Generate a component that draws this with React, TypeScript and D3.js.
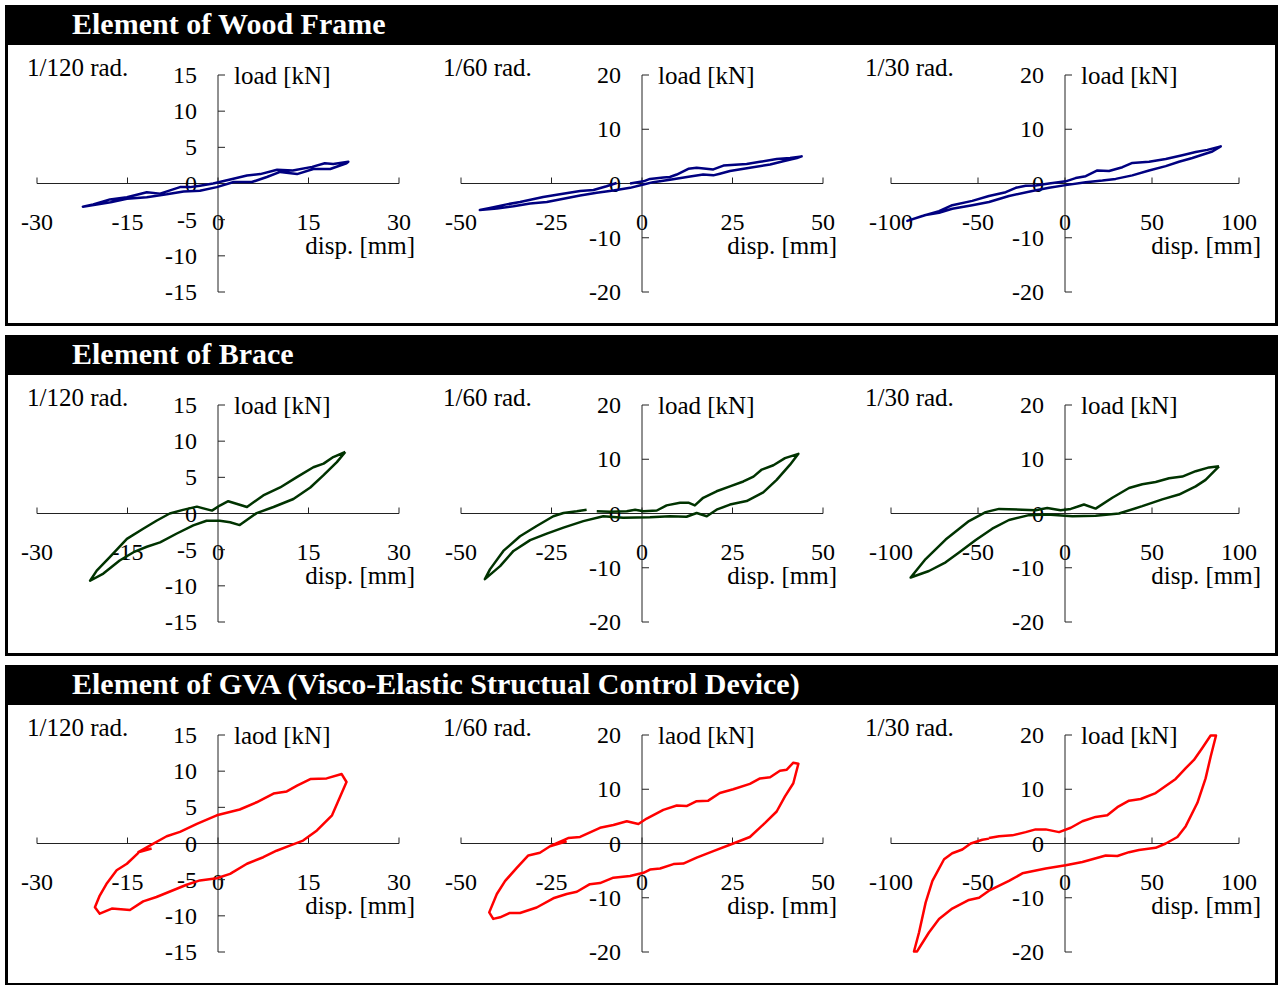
import * as d3 from 'd3';

// hysteresis loops, [disp mm, load kN]
const woodFrame120: [number, number][] = [
  [-0.8, 0], [2.2, 0.6], [4.8, 1.1], [7, 1.3], [9.8, 1.9], [12.4, 1.8], [15.6, 2.3], [17.7, 2.8], [19.1, 2.7], [21.6, 3.0],
  [21.3, 2.8], [18.6, 2.0], [15.8, 2.0], [13.1, 1.3], [10.3, 1.6], [8.1, 0.9], [5.6, 0.2], [2.6, 0.2], [-0.2, -0.5], [-3.0, -1.0],
  [-5.7, -1.1], [-8.5, -1.5], [-11.8, -1.9], [-15.1, -2.1], [-17.8, -2.6], [-20.1, -2.9], [-22.4, -3.2],
  [-20.7, -2.9], [-17.9, -2.2], [-15.1, -1.9], [-11.8, -1.2], [-9.6, -1.4], [-6.3, -0.5], [-4.6, -0.5], [-3, -0.3], [-0.8, 0],
];
const woodFrame60: [number, number][] = [
  [-3.3, 0], [0.4, 0.4], [2.2, 0.85], [5.9, 1.1], [7.7, 1.2], [9.6, 1.65], [12.8, 2.7], [15.1, 2.9], [19.7, 2.6], [22.5, 3.3],
  [28.9, 3.6], [32.6, 4.0], [37.2, 4.5], [40.9, 4.7], [44.1, 5.0],
  [42.8, 4.7], [39, 4.1], [35.4, 3.5], [29.8, 2.9], [24.3, 2.3], [21.5, 1.8], [19.7, 1.5], [16.9, 1.65], [13.3, 1.3], [7.7, 0.7],
  [3.1, 0.25], [0.4, -0.2], [-3.3, -0.8], [-7.9, -1.3], [-12.5, -1.7], [-17.1, -2.2], [-21.7, -2.8], [-26.3, -3.4], [-30.9, -3.7],
  [-35.5, -4.2], [-40.1, -4.6], [-44.8, -4.9],
  [-42, -4.5], [-37.4, -3.85], [-33.7, -3.4], [-27.3, -2.5], [-22.7, -2.0], [-17.1, -1.4], [-13.4, -1.2], [-9.8, -0.5], [-7.0, 0.1],
];
const woodFrame30: [number, number][] = [
  [-9.2, 0], [0.4, 0.4], [6.1, 1.0], [11.9, 1.35], [18.6, 2.4], [25.3, 2.3], [33, 3.0], [38.7, 3.8], [48.3, 4.0], [57.9, 4.5],
  [67.4, 5.2], [75.1, 5.8], [81.8, 6.2], [89.5, 6.85],
  [84.7, 5.9], [78.9, 5.3], [73.2, 4.7], [65.5, 4.0], [57.9, 3.2], [48.3, 2.4], [38.7, 1.5], [29.1, 0.85], [21.5, 0.55], [11.9, 0.25],
  [0.4, -0.3], [-9.2, -0.8], [-18.8, -1.4], [-32.2, -2.3], [-43.7, -3.4], [-53.3, -4.0], [-64.8, -4.65], [-72.4, -5.4], [-80.1, -5.8],
  [-90.6, -6.9],
  [-82, -6.0], [-72.4, -5.1], [-64.8, -4.0], [-53.3, -3.2], [-43.7, -2.3], [-34.1, -1.6], [-28.3, -0.8], [-22.6, -0.4], [-16.8, -0.35], [-9.2, 0],
];

const brace120: [number, number][] = [
  [21.1, 8.5], [19.7, 7.1], [17.5, 5.3], [15.3, 3.6], [12.5, 2.0], [9.2, 0.9], [6.4, 0.05], [3.6, -1.6], [2.0, -1.2], [0.3, -1.0],
  [-1.9, -1.0], [-4.1, -1.65], [-6.9, -2.8], [-9.6, -4.0], [-11.8, -4.6], [-14.0, -5.35], [-16.3, -6.5], [-19.0, -8.3], [-21.2, -9.3],
  [-20.1, -7.9], [-17.9, -6.0], [-15.1, -3.5], [-12.4, -2.1], [-10.2, -1.0], [-8.0, 0], [-5.8, 0.5], [-3.5, 0.95], [-1.0, 0.4],
  [0.3, 1.1], [1.7, 1.7], [4.8, 0.9], [7.5, 2.5], [10.3, 3.6], [13.0, 5.0], [15.8, 6.4], [17.5, 6.9], [19.1, 7.8], [21.1, 8.5],
];
const brace60: [number, number][] = [
  [-12.5, 0.4], [-8.8, 0.3], [-4.2, 0.4], [-1.9, 0.7], [0.4, 0.4], [4.1, 0.55], [6.8, 1.5], [10.5, 2.0], [12.8, 2.0], [14.6, 1.5],
  [16.9, 2.9], [20.6, 4.1], [24.3, 5.0], [28, 5.9], [30.8, 6.8], [33.1, 8.1], [36.3, 8.9], [39.5, 10.2], [43.2, 11.0],
  [40.9, 9.0], [37.2, 6.2], [33.5, 3.9], [28.9, 2.3], [24.3, 1.65], [20.6, 0.7], [17.9, -0.5], [15.1, 0.1], [12.3, -0.6], [7.7, -0.5],
  [2.2, -0.7], [-5.2, -0.8], [-10.7, -0.5], [-16.2, -1.4], [-21.7, -2.6], [-26.3, -3.7], [-30.9, -4.9], [-35.5, -6.9], [-39.2, -9.7],
  [-43.4, -12.1],
  [-42, -10.3], [-38.3, -6.9], [-33.7, -4.2], [-29.1, -2.3], [-24.5, -0.5], [-21.7, 0.1], [-18.0, 0.4], [-15.3, 0.7],
];
const brace30: [number, number][] = [
  [88.5, 8.7], [80.8, 6.2], [75.1, 5.0], [65.5, 3.5], [55.9, 2.6], [44.4, 1.35], [31, 0], [17.6, -0.4], [4.2, -0.5], [-10.2, -0.2],
  [-20.7, -0.3], [-32.2, -1.2], [-41.8, -2.8], [-51.3, -4.9], [-60.9, -7.2], [-68.6, -9.0], [-78.2, -10.6], [-88.7, -11.8],
  [-80.1, -8.4], [-68.6, -4.8], [-55.2, -1.4], [-45.6, 0.25], [-37.9, 0.85], [-24.5, 0.7], [-16.9, 0.6], [-10.2, 1.0], [-2.5, 0.6],
  [3.3, 0.85], [10.9, 1.65], [17.6, 0.9], [27.2, 2.9], [36.8, 4.7], [44.4, 5.4], [52.1, 5.8], [59.8, 6.5], [67.4, 6.8], [75.1, 7.8],
  [82.8, 8.5], [88.5, 8.7],
];

const gva120: [number, number][] = [
  [-11, -0.7], [-13.2, -1.2], [-11.3, -0.3], [-8.5, 1.0], [-6.3, 1.6], [-3.5, 2.7], [-0.2, 3.9], [3.6, 4.7], [6.4, 5.7], [9.2, 6.9],
  [11.4, 7.2], [13.1, 8.0], [15.3, 8.9], [18.0, 9.0], [20.5, 9.6], [21.3, 8.5],
  [20.2, 6.4], [18.9, 3.9], [16.4, 1.8], [14.1, 0.4], [11.9, -0.3], [9.7, -1.0], [7.5, -1.9], [4.8, -2.8], [2.0, -4.2], [-0.2, -4.8],
  [-3.0, -5.1], [-5.2, -5.7], [-10.2, -7.4], [-12.4, -8.0], [-14.6, -9.2], [-17.6, -9.0], [-19.6, -9.7], [-20.4, -8.8],
  [-19.6, -7.2], [-18.5, -5.6], [-16.8, -3.7], [-15.1, -2.8], [-13.2, -1.3],
];
const gva60: [number, number][] = [
  [-25.4, -0.5], [-20.4, 1.0], [-17.1, 1.2], [-11.6, 2.9], [-7.9, 3.4], [-4.2, 4.1], [-1.0, 3.6], [1.3, 4.6], [5.9, 6.2], [9.6, 7.0],
  [12.3, 6.9], [15.1, 7.8], [18.3, 7.9], [21.5, 9.3], [25.2, 10.0], [29.8, 11.0], [32.6, 12.0], [35.4, 12.2], [38.1, 13.4],
  [40, 13.6], [41.8, 14.9], [43.2, 14.7],
  [41.8, 11.1], [39.5, 8.7], [37.2, 5.9], [34, 3.8], [29.8, 1.2], [25.2, 0], [19.7, -1.4], [15.1, -2.6], [11.4, -3.7], [8.7, -3.8],
  [5.0, -4.6], [2.2, -4.8], [0.4, -5.4], [-3.3, -6.0], [-7.9, -6.3], [-11.6, -7.3], [-14.4, -7.5], [-18, -8.9], [-20.8, -9.3],
  [-24.5, -10.1], [-29.1, -11.8], [-33.7, -12.8], [-36.5, -12.8], [-39.2, -13.6], [-41.1, -13.9], [-42.2, -12.7],
  [-40.1, -9.3], [-37.8, -6.9], [-34.6, -4.5], [-31.4, -2.2], [-28.2, -1.7], [-25.4, -0.5], [-20.8, 0.4],
];
const gva30: [number, number][] = [
  [-43.7, 1.0], [-37.9, 1.35], [-30.3, 1.5], [-22.6, 2.1], [-16.9, 2.6], [-11.1, 2.6], [-3.4, 2.1], [3.3, 2.9], [10, 4.1],
  [17.6, 4.9], [24.3, 5.2], [30.1, 6.7], [36.8, 7.9], [43.5, 8.2], [52.1, 9.3], [63.6, 11.9], [69.4, 13.9], [74.1, 15.4],
  [78.9, 17.6], [83.7, 19.9], [86.8, 19.9],
  [83.7, 16.0], [80.8, 12.0], [76.1, 7.5], [69.4, 3.2], [64.6, 1.2], [57.9, 0], [52.1, -0.8], [42.5, -1.2], [36.8, -1.6],
  [30.1, -2.3], [23.4, -2.2], [15.7, -2.9], [10, -3.4], [0.4, -4.0], [-11.1, -4.6], [-24.5, -5.5], [-32.2, -6.9], [-43.7, -8.7],
  [-49.4, -10.0], [-55.2, -10.4], [-64.8, -12.0], [-72.4, -13.9], [-78.2, -16.4], [-82.9, -18.8], [-85, -19.9], [-86.8, -19.9],
  [-83.9, -16.4], [-80.1, -10.9], [-76.2, -6.9], [-69.5, -2.9], [-64.8, -1.8], [-59, -1.1], [-54.2, 0], [-47.5, 0.7], [-43.7, 0.9],
];

const rowTitles = ['Element of Wood Frame', 'Element of Brace', 'Element of GVA (Visco-Elastic Structual Control Device)'];
const rowColors = ['#000080', '#003300', '#ff0000'];
const rowLoops = [
  [woodFrame120, woodFrame60, woodFrame30],
  [brace120, brace60, brace30],
  [gva120, gva60, gva30],
];
const loadLabels = [
  ['load [kN]', 'load [kN]', 'load [kN]'],
  ['load [kN]', 'load [kN]', 'load [kN]'],
  ['laod [kN]', 'laod [kN]', 'load [kN]'],
];

const angleLabels = ['1/120 rad.', '1/60 rad.', '1/30 rad.'];
const xTickSets = [[-30, -15, 0, 15, 30], [-50, -25, 0, 25, 50], [-100, -50, 0, 50, 100]];
const yTickSets = [[-15, -10, -5, 0, 5, 10, 15], [-20, -10, 0, 10, 20], [-20, -10, 0, 10, 20]];

const W = 1278;
const H = 985;
const ROW_H = 330;
const FONT = '"Liberation Serif", "Times New Roman", serif';

// column layout
const cols = [
  { xr: [37, 399], labelX: 27, dispX: 415 },
  { xr: [461, 823], labelX: 443, dispX: 837 },
  { xr: [891, 1239], labelX: 865, dispX: 1261 },
];
const yRange = [292, 75];

const Subplot = ({ col, row }: { col: number; row: number }) => {
  const ticksX = xTickSets[col];
  const ticksY = yTickSets[col];
  const x = d3.scaleLinear().domain([ticksX[0], ticksX[ticksX.length - 1]]).range(cols[col].xr);
  const y = d3.scaleLinear().domain([ticksY[0], ticksY[ticksY.length - 1]]).range(yRange);
  const line = d3.line<[number, number]>().x(d => x(d[0])).y(d => y(d[1]));
  const x0 = x(0);
  const y0 = y(0);
  const axisColor = '#222';

  return (
    <g>
      <text x={cols[col].labelX} y={76} fontSize={25} fontFamily={FONT}>{angleLabels[col]}</text>
      {/* x axis, ticks point up */}
      <line x1={x.range()[0]} x2={x.range()[1]} y1={y0} y2={y0} stroke={axisColor} strokeWidth={1} />
      {ticksX.map(t => (
        <g key={'x' + t}>
          <line x1={x(t)} x2={x(t)} y1={y0} y2={y0 - 6} stroke={axisColor} strokeWidth={1} />
          <text x={x(t)} y={y0 + 46} textAnchor="middle" fontSize={24} fontFamily={FONT}>{t}</text>
        </g>
      ))}
      {/* y axis, ticks point right */}
      <line x1={x0} x2={x0} y1={y.range()[0]} y2={y.range()[1]} stroke={axisColor} strokeWidth={1} />
      {ticksY.map(t => (
        <g key={'y' + t}>
          <line x1={x0} x2={x0 + 7} y1={y(t)} y2={y(t)} stroke={axisColor} strokeWidth={1} />
          <text x={x0 - 21} y={y(t) + 8} textAnchor="end" fontSize={24} fontFamily={FONT}>{t}</text>
        </g>
      ))}
      <text x={x0 + 16} y={84} fontSize={25} fontFamily={FONT}>{loadLabels[row][col]}</text>
      <text x={cols[col].dispX} y={254} textAnchor="end" fontSize={25} fontFamily={FONT}>disp. [mm]</text>
      <path d={line(rowLoops[row][col]) || ''} fill="none" stroke={rowColors[row]} strokeWidth={2.5} strokeLinejoin="round" />
    </g>
  );
};

const Panel = ({ row }: { row: number }) => (
  <g transform={`translate(0,${row * ROW_H})`}>
    <rect x={6.5} y={6.5} width={1270} height={318} fill="#fff" stroke="#000" strokeWidth={3} />
    <rect x={5} y={6} width={1273} height={39} fill="#000" />
    <text x={72} y={34} fill="#fff" fontSize={30} fontWeight="bold" fontFamily={FONT}>{rowTitles[row]}</text>
    {[0, 1, 2].map(c => <Subplot key={c} col={c} row={row} />)}
  </g>
);

export default function App() {
  return (
    <div style={{ position: 'absolute', left: 0, top: 0 }}>
      <svg width={W} height={H} style={{ display: 'block', background: '#fff' }}>
        {[0, 1, 2].map(r => <Panel key={r} row={r} />)}
      </svg>
    </div>
  );
}
